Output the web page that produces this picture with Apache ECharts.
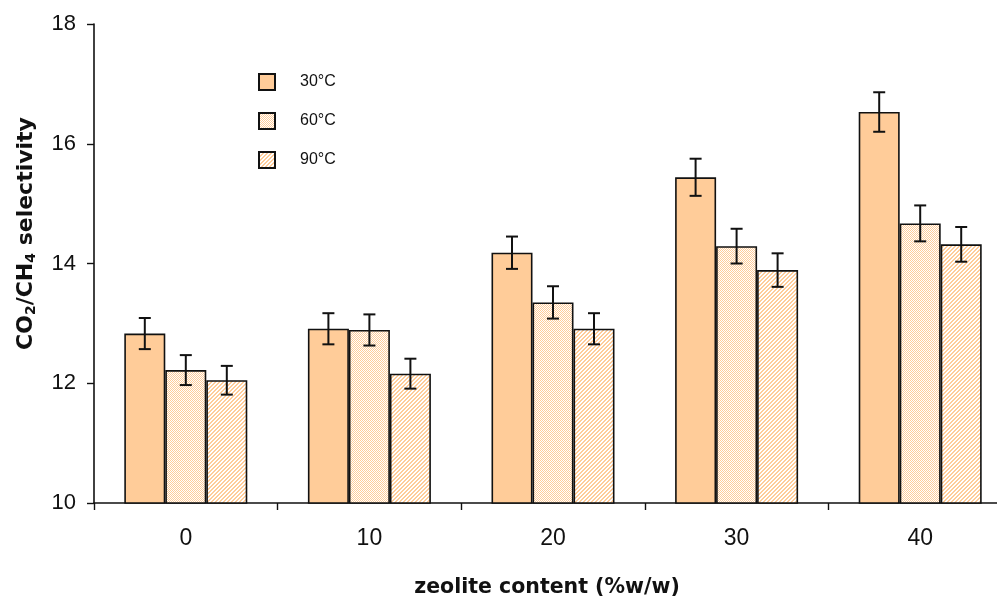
<!DOCTYPE html>
<html><head><meta charset="utf-8">
<script src="https://cdn.jsdelivr.net/npm/echarts@6/dist/echarts.min.js"></script>
<style>html,body{margin:0;padding:0;background:#fff;overflow:hidden}#c{width:1012px;height:599px}</style>
</head><body><div id="c"></div>
<script>
var categories = ['0', '10', '20', '30', '40'];
var seriesNames = ['30°C', '60°C', '90°C'];
var sel30 = [12.83, 12.91, 14.18, 15.44, 16.53];
var sel60 = [12.22, 12.89, 13.35, 14.29, 14.67];
var sel90 = [12.05, 12.16, 12.91, 13.89, 14.32];
var err30 = [0.26, 0.26, 0.27, 0.31, 0.33];
var err60 = [0.25, 0.26, 0.27, 0.29, 0.30];
var err90 = [0.24, 0.25, 0.26, 0.28, 0.29];
var yTicks = [10, 12, 14, 16, 18];

var PEACH = '#FFCC99';
function makePattern(kind) {
  var c = document.createElement('canvas');
  c.width = 4; c.height = 4;
  var ctx = c.getContext('2d');
  ctx.fillStyle = '#ffffff'; ctx.fillRect(0, 0, 4, 4);
  ctx.fillStyle = PEACH;
  for (var x = 0; x < 4; x++) for (var y = 0; y < 4; y++) {
    var on = kind === 'check' ? ((x + y) % 2 === 0) : (((x + y) % 4) < 2);
    if (on) ctx.fillRect(x, y, 1, 1);
  }
  return { image: c, repeat: 'repeat' };
}
var fills = [PEACH, makePattern('check'), makePattern('diag')];
var values = [sel30, sel60, sel90];
var errs = [err30, err60, err90];
var BW = 41;
var TITLE_FONT = 'DejaVu Sans, Liberation Sans, sans-serif';

var chart = echarts.init(document.getElementById('c'), null, { renderer: 'canvas' });
var series = [];
for (var s = 0; s < 3; s++) {
  series.push({
    name: seriesNames[s], type: 'bar', data: values[s], barWidth: BW, barGap: '0%',
    itemStyle: { color: fills[s], borderColor: '#111', borderWidth: 1.6 },
    emphasis: { disabled: true }, z: 2
  });
}
for (var s2 = 0; s2 < 3; s2++) {
  (function (si) {
    var data = values[si].map(function (v, i) { return [i, v - errs[si][i], v + errs[si][i]]; });
    series.push({
      type: 'custom', z: 5, silent: true, data: data,
      renderItem: function (params, api) {
        var i = api.value(0);
        var lo = api.coord([i, api.value(1)]);
        var hi = api.coord([i, api.value(2)]);
        var x = lo[0] + (si - 1) * BW;
        var cap = 6;
        var st = { stroke: '#111', lineWidth: 2 };
        return { type: 'group', children: [
          { type: 'line', shape: { x1: x, y1: lo[1], x2: x, y2: hi[1] }, style: st },
          { type: 'line', shape: { x1: x - cap, y1: lo[1], x2: x + cap, y2: lo[1] }, style: st },
          { type: 'line', shape: { x1: x - cap, y1: hi[1], x2: x + cap, y2: hi[1] }, style: st }
        ]};
      }
    });
  })(s2);
}

chart.setOption({
  animation: false,
  backgroundColor: '#fff',
  textStyle: { fontFamily: 'Liberation Sans, Arial, sans-serif' },
  grid: { left: 94, top: 24, right: 0, bottom: 96, containLabel: false, outerBoundsMode: 'none' },
  legend: {
    orient: 'vertical', left: 253, top: 68, itemWidth: 16, itemHeight: 16, itemGap: 21,
    icon: 'rect', data: seriesNames,
    textStyle: { fontSize: 16, color: '#111', padding: [0, 0, 0, 20], lineHeight: 16 }
  },
  xAxis: {
    type: 'category', data: categories,
    name: 'zeolite content (%w/w)', nameLocation: 'middle', nameGap: 74,
    nameTextStyle: { fontFamily: TITLE_FONT, fontSize: 20.5, fontWeight: 'bold', color: '#111', padding: [0, 12, 0, 0] },
    axisLine: { lineStyle: { color: '#111', width: 1.6 } },
    axisTick: { show: true, length: 7, lineStyle: { color: '#111', width: 1.4 } },
    axisLabel: { fontSize: 23, color: '#111', margin: 24 },
    splitLine: { show: false }
  },
  yAxis: {
    type: 'value', min: 10, max: 18, interval: 2,
    name: 'CO{s|2}/CH{s|4} selectivity', nameLocation: 'middle', nameGap: 56, nameRotate: 90,
    nameTextStyle: {
      fontFamily: TITLE_FONT, fontSize: 22, fontWeight: 'bold', color: '#111', padding: [0, 0, 0, 60], lineHeight: 24,
      rich: { s: { fontFamily: TITLE_FONT, fontSize: 14, fontWeight: 'bold', verticalAlign: 'bottom', lineHeight: 16 } }
    },
    axisLine: { show: true, lineStyle: { color: '#111', width: 1.6 } },
    axisTick: { show: true, length: 7, lineStyle: { color: '#111', width: 1.4 } },
    axisLabel: { fontSize: 22, color: '#111', margin: 18,
      formatter: function (v) { return yTicks.indexOf(v) >= 0 ? String(v) : ''; } },
    splitLine: { show: false }
  },
  series: series
});
</script></body></html>
